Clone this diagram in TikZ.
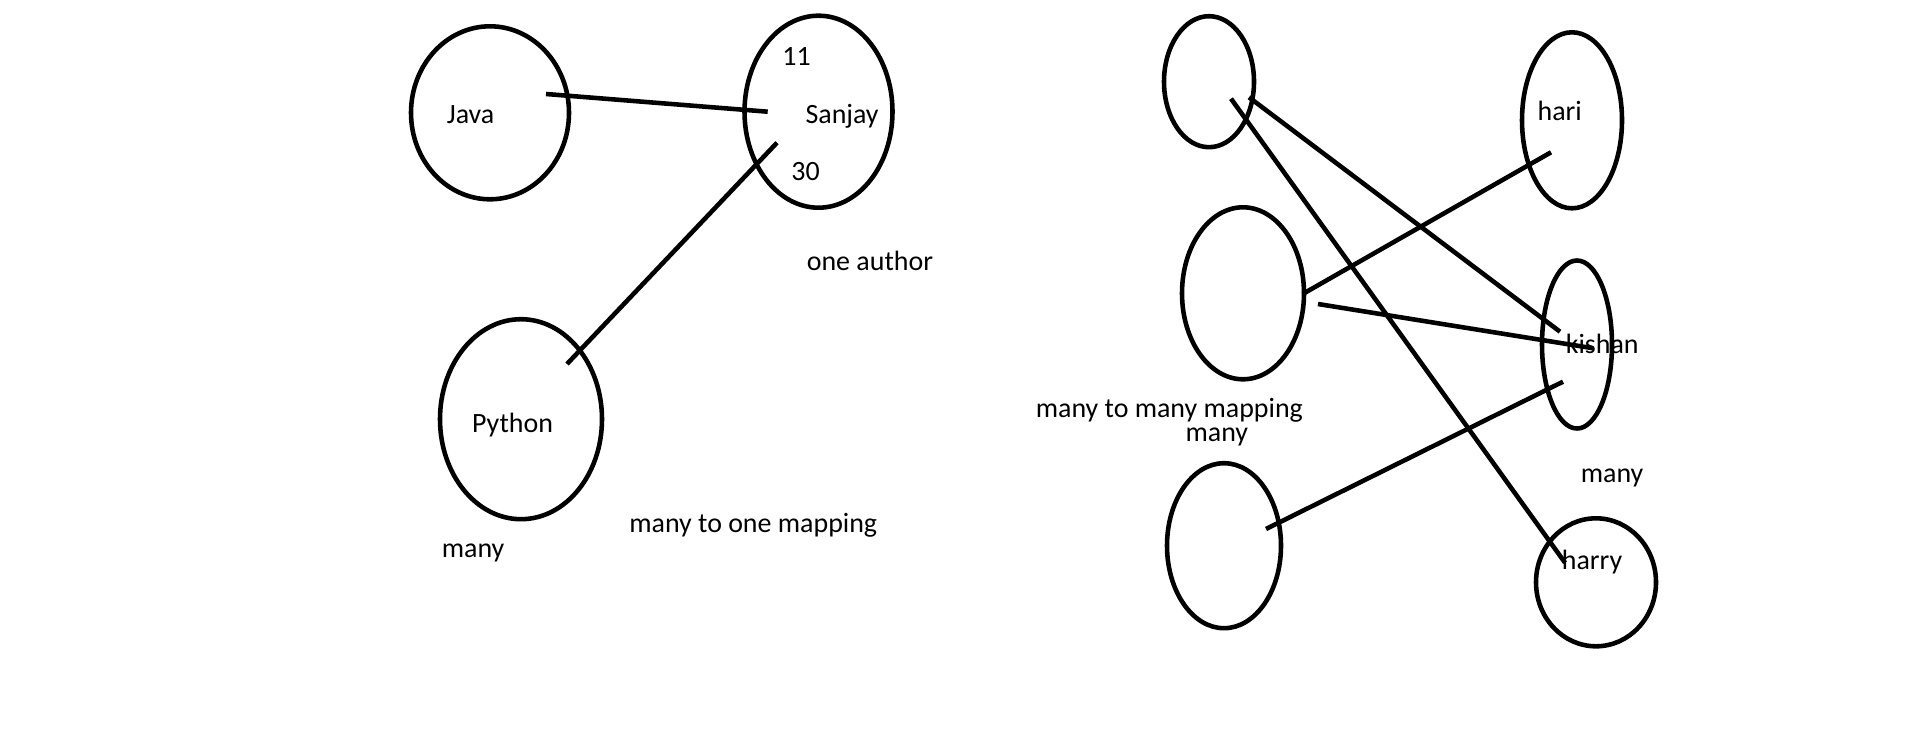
\documentclass[tikz,border=0pt]{standalone}
\usepackage{fontspec}
\setmainfont{Carlito}
\usepackage{tikz}
\usetikzlibrary{calc}
\usetikzlibrary{shapes.geometric}

\tikzset{
  set/.style={draw, ellipse, line width=2.6pt, inner sep=0pt},
  lbl/.style={anchor=base west, inner sep=0pt, xshift=-2.5*0.02cm, font=\fontsize{15.9}{19}\selectfont},
  link/.style={line width=2.6pt}
}

\begin{document}
\begin{tikzpicture}[x=0.02cm, y=-0.02cm]
            % Frame to ensure alignment:
            \useasboundingbox                                       (0, 0) rectangle (1914, 740);
            % Many to one
            \node[set, minimum width=158*0.02cm, minimum height=173*0.02cm] (java)   at ( 490.0, 112.8) {};
            \node[set, minimum width=148*0.02cm, minimum height=192*0.02cm] (sanjay) at ( 818.5, 111.7) {};
            \node[set, minimum width=162*0.02cm, minimum height=200*0.02cm] (python) at ( 521.0, 419.2) {};
            \node[lbl] (tjava)   at ( 449.0, 124.0) {Java};
            \node[lbl] (tsanjay) at ( 807.7, 124.0) {Sanjay};
            \node[lbl] (tid)     at ( 784.6,  66.0) {11};
            \node[lbl] (tage)    at ( 793.5, 180.0) {30};
            \node[lbl] (tone)    at ( 809.0, 270.7) {one author};
            \node[lbl] (tpython) at ( 474.3, 432.7) {Python};
            \node[lbl] (tmto)    at ( 631.5, 532.0) {many to one mapping};
            \node[lbl] (tmany)   at ( 444.0, 557.3) {many};
            \draw[link] ([shift={( 56.0,-18.8)}]java.center)   -- ([shift={(-50.8,  0.0)}]sanjay.center);
            \draw[link] ([shift={(-41.5, 31.0)}]sanjay.center) -- ([shift={( 46.0,-55.2)}]python.center);
            % Many to many
            \node[set, minimum width= 90*0.02cm, minimum height=131*0.02cm] (left1)  at (1209.0,  81.7) {};
            \node[set, minimum width=122*0.02cm, minimum height=172*0.02cm] (left2)  at (1243.0, 293.3) {};
            \node[set, minimum width=114*0.02cm, minimum height=165*0.02cm] (left3)  at (1224.0, 545.7) {};
            \node[set, minimum width=100*0.02cm, minimum height=176*0.02cm] (hari)   at (1572.0, 120.3) {};
            \node[set, minimum width= 70*0.02cm, minimum height=168*0.02cm] (kishan) at (1577.0, 344.5) {};
            \node[set, minimum width=120*0.02cm, minimum height=128*0.02cm] (harry)  at (1596.0, 582.3) {};
            \node[lbl] (thari)   at (1539.8, 120.7) {hari};
            \node[lbl] (tkishan) at (1568.0, 353.3) {kishan};
            \node[lbl] (tharry)  at (1564.0, 569.3) {harry};
            \node[lbl] (tmtm)    at (1038.0, 417.0) {many to many mapping};
            \node[lbl] (tmanyl)  at (1187.7, 441.0) {many};
            \node[lbl] (tmanyr)  at (1583.0, 482.7) {many};
            \draw[link] ([shift={( 40.0, 15.6)}]left1.center) -- ([shift={(-17.0,-12.8)}]kishan.center);
            \draw[link] ([shift={( 22.0, 17.0)}]left1.center) -- ([shift={(-31.0,-19.6)}]harry.center);
            \draw[link] ([shift={( 59.7,  0.7)}]left2.center) -- ([shift={(-21.0, 32.0)}]hari.center);
            \draw[link] ([shift={( 75.0, 10.7)}]left2.center) -- ([shift={( 16.4,  3.8)}]kishan.center);
            \draw[link] ([shift={( 42.0,-16.7)}]left3.center) -- ([shift={(-14.0, 37.2)}]kishan.center);
\end{tikzpicture}
\end{document}
